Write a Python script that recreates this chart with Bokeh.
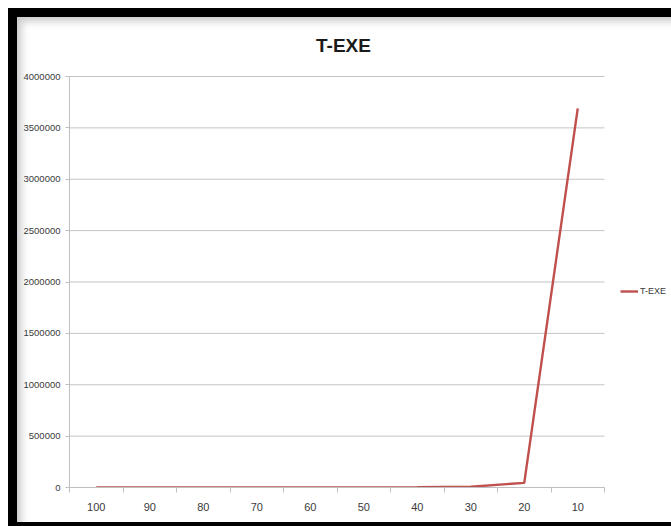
from bokeh.plotting import figure
from bokeh.models import (FixedTicker, BasicTickFormatter, Legend, LegendItem,
                          ColumnDataSource, Label)
from bokeh.embed import file_html
from bokeh.resources import INLINE

categories = ["100", "90", "80", "70", "60", "50", "40", "30", "20", "10"]
t_exe = [5, 20, 60, 150, 400, 1200, 3500, 8000, 45000, 3690000]
y_ticks = [0, 500000, 1000000, 1500000, 2000000, 2500000, 3000000, 3500000, 4000000]

FONT = "Liberation Sans Narrow, Liberation Sans, sans-serif"
LABEL_COLOR = "#3a3a3a"
AXIS_COLOR = "#bfbfbf"
GRID_COLOR = "#c4c4c4"

# layout geometry (pixels)
W, H = 671, 526
FL, FR, FT, FB = 69, 671, 17, 487      # plot frame edges
AX_R, AX_T = 604, 76                  # where the category axis ends / 4000000 sits
n = len(categories)
y_max = y_ticks[-1]
x_end = n * (FR - FL) / (AX_R - FL)
y_end = y_max * (FB - FT) / (FB - AX_T)

xpos = [categories.index(c) + 0.5 for c in categories]
src = ColumnDataSource(dict(x=xpos, y=t_exe))
grid_src = ColumnDataSource(dict(x0=[0] * len(y_ticks), x1=[n] * len(y_ticks), y=y_ticks))

p = figure(width=W, height=H, x_range=(0, x_end), y_range=(0, y_end),
           output_backend="svg", toolbar_location=None,
           min_border_left=FL, min_border_right=W - FR,
           min_border_top=FT, min_border_bottom=H - FB,
           styles={"position": "absolute", "left": "0px", "top": "0px",
                   "background": "white",
                   "box-shadow": ("inset 8px 8px 0 0 white, "
                                  "inset 17px 17px 0 0 black, "
                                  "inset 0 -4px 0 0 black, "
                                  "inset 21px 21px 8px 0 rgba(0,0,0,0.22)")})
p.outline_line_color = None
p.background_fill_alpha = 0
p.border_fill_alpha = 0

p.xgrid.grid_line_color = None
p.ygrid.grid_line_color = None
p.segment(x0="x0", x1="x1", y0="y", y1="y", source=grid_src,
          line_color=GRID_COLOR, line_width=1, level="underlay")

r = p.line("x", "y", source=src, line_color="#c0504d", line_width=2.4)

title = Label(x=343 - FL, y=FB - 45, x_units="screen", y_units="screen", text="T-EXE",
              text_align="center", text_baseline="middle", text_font=FONT,
              text_font_size="19px", text_font_style="bold", text_color="#1a1a1a")
p.add_layout(title)

# x axis
xa = p.xaxis[0]
xa.bounds = (0, n)
xa.ticker = FixedTicker(ticks=xpos, minor_ticks=list(range(n + 1)))
xa.major_label_overrides = {x: c for x, c in zip(xpos, categories)}
xa.major_tick_line_color = None
xa.minor_tick_line_color = AXIS_COLOR
xa.minor_tick_in = 0
xa.minor_tick_out = 5
xa.axis_line_color = AXIS_COLOR
xa.major_label_text_font = FONT
xa.major_label_text_font_size = "11px"
xa.major_label_text_color = LABEL_COLOR
xa.major_label_standoff = 9

# y axis
ya = p.yaxis[0]
ya.bounds = (0, y_max)
ya.ticker = FixedTicker(ticks=y_ticks, minor_ticks=[])
ya.formatter = BasicTickFormatter(use_scientific=False)
ya.axis_line_color = AXIS_COLOR
ya.major_tick_line_color = AXIS_COLOR
ya.major_tick_in = 0
ya.major_tick_out = 4
ya.minor_tick_line_color = None
ya.major_label_text_font = FONT
ya.major_label_text_font_size = "9.5px"
ya.major_label_text_color = LABEL_COLOR
ya.major_label_standoff = 5

legend = Legend(items=[LegendItem(label="T-EXE", renderers=[r])],
                location=(620 - FL, 186), padding=0, margin=0, border_line_color=None,
                background_fill_alpha=0, glyph_width=18, label_standoff=2,
                label_text_font=FONT, label_text_font_size="9px",
                label_text_color=LABEL_COLOR)
p.add_layout(legend, "center")

open("out.html", "w").write(file_html(p, INLINE))
